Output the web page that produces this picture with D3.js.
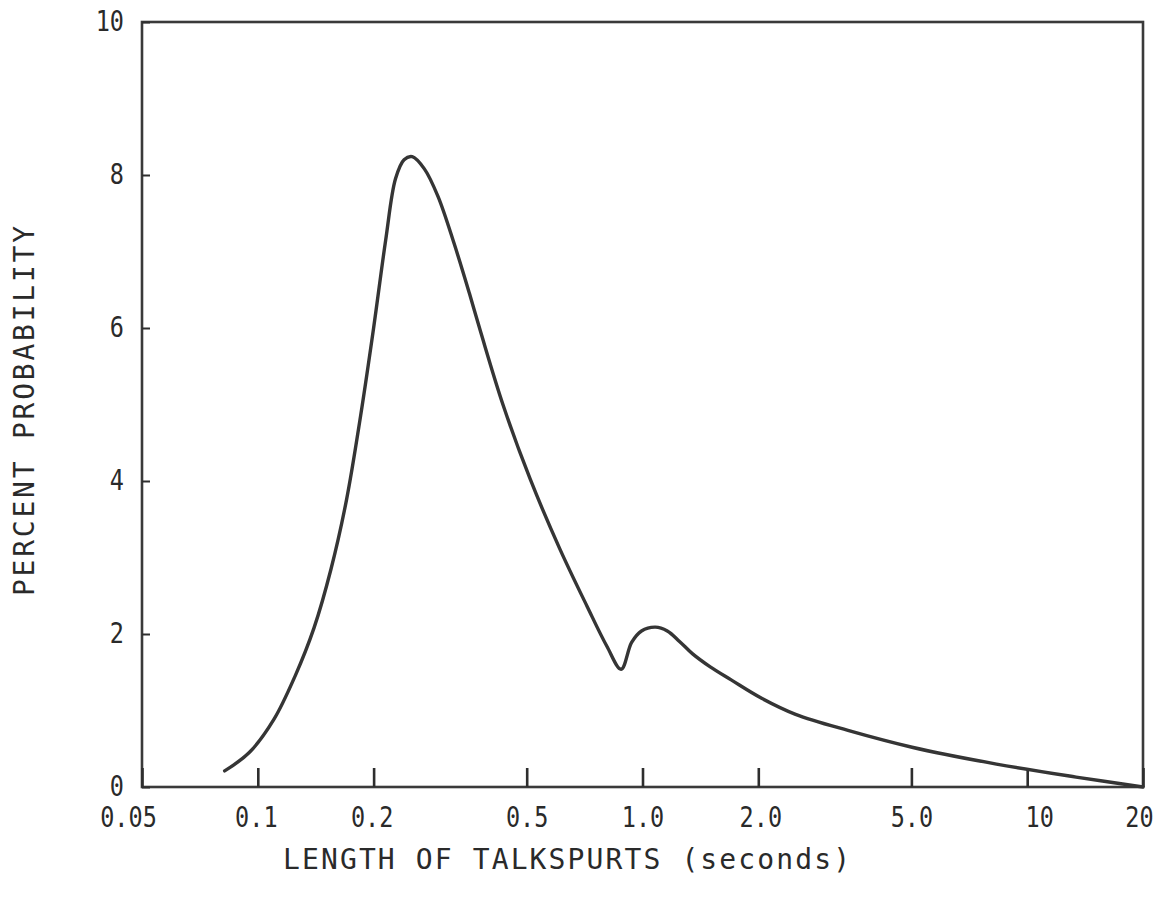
<!DOCTYPE html>
<html>
<head>
<meta charset="utf-8">
<script src="https://cdn.jsdelivr.net/npm/d3@7"></script>
<style>
  html, body { margin: 0; padding: 0; background: #fff; }
  svg { display: block; }
  .tick text { font-family: "DejaVu Sans Mono", monospace; font-size: 28px; fill: #2a2a2a; }
  .title { font-family: "DejaVu Sans Mono", monospace; font-size: 28px; fill: #2a2a2a; }
</style>
</head>
<body>
<script>
// Talkspurt length distribution (seconds, log axis) vs percent probability
const talkspurtSeconds = [0.082, 0.095, 0.110, 0.125, 0.140, 0.155, 0.170, 0.185, 0.200, 0.215, 0.228, 0.240, 0.252, 0.271, 0.294, 0.324, 0.355, 0.380, 0.435, 0.511, 0.610, 0.718, 0.808, 0.880, 0.937, 0.994, 1.08, 1.16, 1.25, 1.35, 1.50, 1.70, 2.04, 2.50, 3.42, 5.02, 8.32, 13.4, 20];
const percentProbability = [0.21, 0.45, 0.88, 1.45, 2.08, 2.85, 3.75, 4.85, 6.00, 7.15, 7.95, 8.20, 8.24, 8.08, 7.72, 7.10, 6.45, 5.94, 4.98, 4.02, 3.11, 2.36, 1.84, 1.54, 1.89, 2.04, 2.09, 2.04, 1.90, 1.74, 1.57, 1.40, 1.16, 0.95, 0.74, 0.52, 0.30, 0.13, 0.0];

const xTickValues = [0.05, 0.1, 0.2, 0.5, 1, 2, 5, 10, 20];
const xTickLabels = ["0.05", "0.1", "0.2", "0.5", "1.0", "2.0", "5.0", "10", "20"];
const yTickValues = [0, 2, 4, 6, 8, 10];
const yTickLabels = ["0", "2", "4", "6", "8", "10"];

const xTitle = "LENGTH OF TALKSPURTS  (seconds)";
const yTitle = "PERCENT PROBABILITY";

const W = 1168, H = 903;
const plotLeft = 142, plotRight = 1143, plotTop = 22, plotBottom = 787;
const squeeze = 0.84; // narrow, condensed lettering for the numerals

const svg = d3.select("body").append("svg").attr("width", W).attr("height", H);

const x = d3.scaleLog().domain([0.05, 20]).range([plotLeft, plotRight]);
const y = d3.scaleLinear().domain([0, 10]).range([plotBottom, plotTop]);

const ink = "#2e2e2e";

// plot frame
svg.append("rect")
  .attr("x", plotLeft).attr("y", plotTop)
  .attr("width", plotRight - plotLeft).attr("height", plotBottom - plotTop)
  .attr("fill", "none").attr("stroke", "#3a3a3a").attr("stroke-width", 2.6);

// x axis: inward ticks, labels below
const xLabelShift = [-14, -2, -2, 0, 0, 2, 0, 12, -4];
const xAxis = svg.append("g")
  .attr("transform", `translate(0,${plotBottom})`)
  .call(d3.axisBottom(x)
    .tickValues(xTickValues)
    .tickFormat((d, i) => xTickLabels[i])
    .tickSizeInner(-19).tickSizeOuter(0).tickPadding(20));
xAxis.select(".domain").remove();
xAxis.selectAll(".tick line").attr("stroke", ink).attr("stroke-width", 2.6);
xAxis.selectAll(".tick text")
  .attr("x", (d, i) => xLabelShift[i] / squeeze)
  .attr("transform", `scale(${squeeze},1)`);

// y axis: short inward ticks, labels at left
const yAxis = svg.append("g")
  .attr("transform", `translate(${plotLeft},0)`)
  .call(d3.axisLeft(y)
    .tickValues(yTickValues)
    .tickFormat((d, i) => yTickLabels[i])
    .tickSizeInner(-8).tickSizeOuter(0).tickPadding(20));
yAxis.select(".domain").remove();
yAxis.selectAll(".tick line").attr("stroke", ink).attr("stroke-width", 2);
yAxis.selectAll(".tick text")
  .attr("x", -18 / squeeze)
  .attr("transform", `scale(${squeeze},1)`);

// distribution curve
const pts = talkspurtSeconds.map((s, i) => [s, percentProbability[i]]);
svg.append("path")
  .datum(pts)
  .attr("fill", "none")
  .attr("stroke", "#353535")
  .attr("stroke-width", 3.4)
  .attr("stroke-linecap", "round")
  .attr("stroke-linejoin", "round")
  .attr("d", d3.line().x(d => x(d[0])).y(d => y(d[1])).curve(d3.curveCatmullRom.alpha(0.5)));

// axis titles
svg.append("text").attr("class", "title")
  .attr("x", 283).attr("y", 869)
  .attr("textLength", 567).attr("lengthAdjust", "spacing")
  .text(xTitle);

svg.append("text").attr("class", "title")
  .attr("transform", "translate(34,596) rotate(-90)")
  .attr("x", 0).attr("y", 0)
  .attr("textLength", 370).attr("lengthAdjust", "spacing")
  .text(yTitle);
</script>
</body>
</html>
